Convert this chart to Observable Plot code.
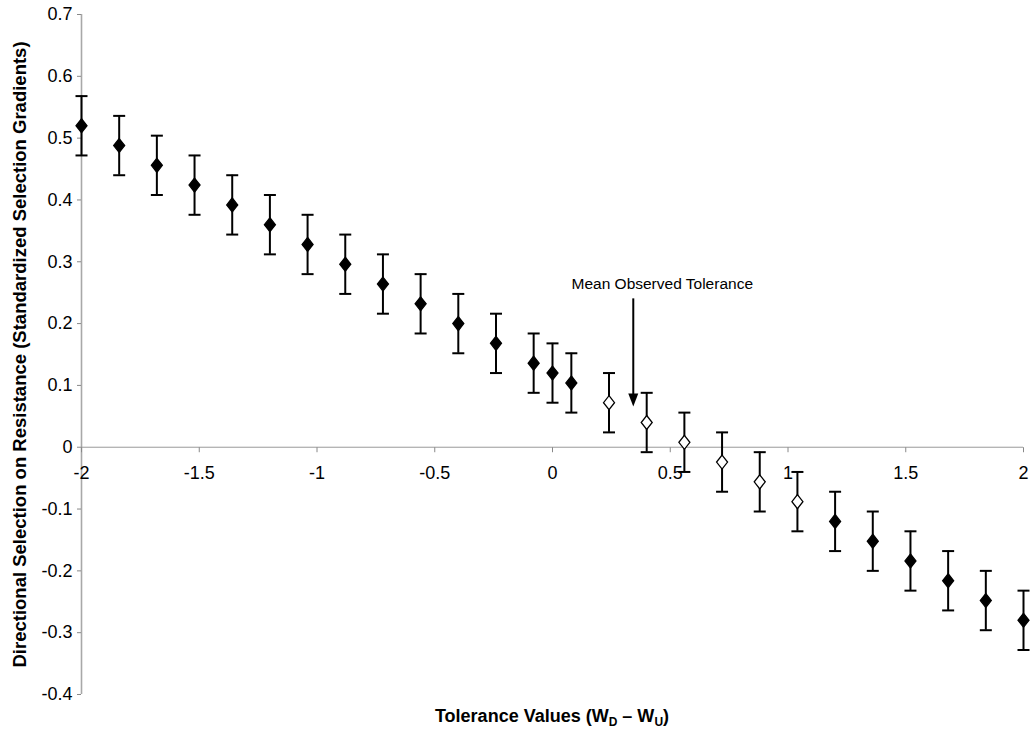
<!DOCTYPE html>
<html>
<head>
<meta charset="utf-8">
<script src="https://cdn.jsdelivr.net/npm/d3@7"></script>
<script src="https://cdn.jsdelivr.net/npm/@observablehq/plot@0.6"></script>
<style>
  html, body { margin: 0; padding: 0; background: #fff; }
  svg { display: block; }
</style>
</head>
<body>
<div id="chart"></div>
<script>
// Tolerance values (x)
const tolerance = [-2, -1.84, -1.68, -1.52, -1.36, -1.2, -1.04, -0.88, -0.72, -0.56, -0.4, -0.24, -0.08, 0, 0.08, 0.24, 0.4, 0.56, 0.72, 0.88, 1.04, 1.2, 1.36, 1.52, 1.68, 1.84, 2];
// Standardized selection gradients (y)
const gradient = [0.52, 0.488, 0.456, 0.424, 0.392, 0.36, 0.328, 0.296, 0.264, 0.232, 0.2, 0.168, 0.136, 0.12, 0.104, 0.072, 0.04, 0.008, -0.024, -0.056, -0.088, -0.12, -0.152, -0.184, -0.216, -0.248, -0.28];
// Error bar bounds
const upper = [0.568, 0.536, 0.504, 0.472, 0.44, 0.408, 0.376, 0.344, 0.312, 0.28, 0.248, 0.216, 0.184, 0.168, 0.152, 0.12, 0.088, 0.056, 0.024, -0.008, -0.04, -0.072, -0.104, -0.136, -0.168, -0.2, -0.232];
const lower = [0.472, 0.44, 0.408, 0.376, 0.344, 0.312, 0.28, 0.248, 0.216, 0.184, 0.152, 0.12, 0.088, 0.072, 0.056, 0.024, -0.008, -0.04, -0.072, -0.104, -0.136, -0.168, -0.2, -0.232, -0.264, -0.296, -0.328];
// Whether the point is non-significant (open marker)
const openMarker = [false, false, false, false, false, false, false, false, false, false, false, false, false, false, false, true, true, true, true, true, true, false, false, false, false, false, false];

const xTicks = [-2, -1.5, -1, -0.5, 0, 0.5, 1, 1.5, 2];
const yTicks = [-0.4, -0.3, -0.2, -0.1, 0, 0.1, 0.2, 0.3, 0.4, 0.5, 0.6, 0.7];

const annotationLabel = "Mean Observed Tolerance";
const meanTolerance = 0.343;
const arrowTop = 0.24;
const arrowTip = 0.066;
const labelX = 0.466;
const labelY = 0.264;

const yTitle = "Directional Selection on Resistance (Standardized Selection Gradients)";

const data = tolerance.map((x, i) => ({x, y: gradient[i], hi: upper[i], lo: lower[i], open: openMarker[i]}));

const fmt = d => String(Math.round(d * 10) / 10);

const diamond = {
  draw(ctx) { ctx.moveTo(0, -7); ctx.lineTo(5.5, 0); ctx.lineTo(0, 7); ctx.lineTo(-5.5, 0); ctx.closePath(); }
};
const cap = {
  draw(ctx) { ctx.moveTo(-6, 0); ctx.lineTo(6, 0); }
};
const downTick = {
  draw(ctx) { ctx.moveTo(0, 0); ctx.lineTo(0, 5); }
};
const arrowHead = {
  draw(ctx) { ctx.moveTo(0, 0); ctx.lineTo(-5, -13); ctx.lineTo(5, -13); ctx.closePath(); }
};

const W = 1036, H = 731, ML = 81, MR = 13, MT = 14, MB = 37;
const font = "Liberation Sans, Arial, Helvetica, sans-serif";

const chart = Plot.plot({
  width: W,
  height: H,
  marginLeft: ML,
  marginRight: MR,
  marginTop: MT,
  marginBottom: MB,
  style: {fontFamily: font, background: "#fff", color: "#000"},
  x: {domain: [-2, 2], axis: null},
  y: {domain: [-0.4, 0.7], axis: null},
  marks: [
    // y axis
    Plot.ruleX([-2], {stroke: "#a8a8a8", strokeWidth: 1.6}),
    Plot.axisY(yTicks, {tickSize: 4, tickPadding: 5, tickFormat: fmt, fontSize: 18, stroke: "#888", fill: "#000", label: null}),
    // x axis at y = 0
    Plot.ruleY([0], {stroke: "#999", strokeWidth: 1}),
    Plot.dot(xTicks, {x: d => d, y: () => 0, symbol: downTick, stroke: "#888", strokeWidth: 1, r: 5}),
    Plot.text(xTicks, {x: d => d, y: () => 0, dy: 26, text: fmt, fontSize: 18, fill: "#000"}),
    // error bars
    Plot.ruleX(data, {x: "x", y1: "lo", y2: "hi", stroke: "#000", strokeWidth: 2}),
    Plot.dot(data, {x: "x", y: "hi", symbol: cap, stroke: "#000", strokeWidth: 2, r: 6}),
    Plot.dot(data, {x: "x", y: "lo", symbol: cap, stroke: "#000", strokeWidth: 2, r: 6}),
    // markers
    Plot.dot(data, {x: "x", y: "y", symbol: diamond, fill: d => d.open ? "#fff" : "#000", stroke: "#000", strokeWidth: 1.3, r: 6}),
    // annotation
    Plot.ruleX([meanTolerance], {y1: arrowTop, y2: arrowTip + 0.015, stroke: "#000", strokeWidth: 2}),
    Plot.dot([meanTolerance], {x: d => d, y: () => arrowTip, symbol: arrowHead, fill: "#000", r: 6}),
    Plot.text([annotationLabel], {x: () => labelX, y: () => labelY, text: d => d, fontSize: 15.5, fill: "#000"}),
    // y title
    Plot.text([yTitle], {frameAnchor: "left", textAnchor: "middle", dx: -61, rotate: -90, text: d => d, fontSize: 18.5, fontWeight: "bold", fill: "#000"})
  ]
});

// x title with subscripts
const svg = d3.select(chart);
const t = svg.append("text")
  .attr("x", (ML + W - MR) / 2)
  .attr("y", H - 9)
  .attr("text-anchor", "middle")
  .attr("font-family", font)
  .attr("font-size", 18)
  .attr("font-weight", "bold")
  .attr("fill", "#000");
t.append("tspan").text("Tolerance Values (W");
t.append("tspan").attr("font-size", 12).attr("dy", 4).text("D");
t.append("tspan").attr("dy", -4).text(" \u2013 W");
t.append("tspan").attr("font-size", 12).attr("dy", 4).text("U");
t.append("tspan").attr("dy", -4).text(")");

document.getElementById("chart").appendChild(chart);
</script>
</body>
</html>
